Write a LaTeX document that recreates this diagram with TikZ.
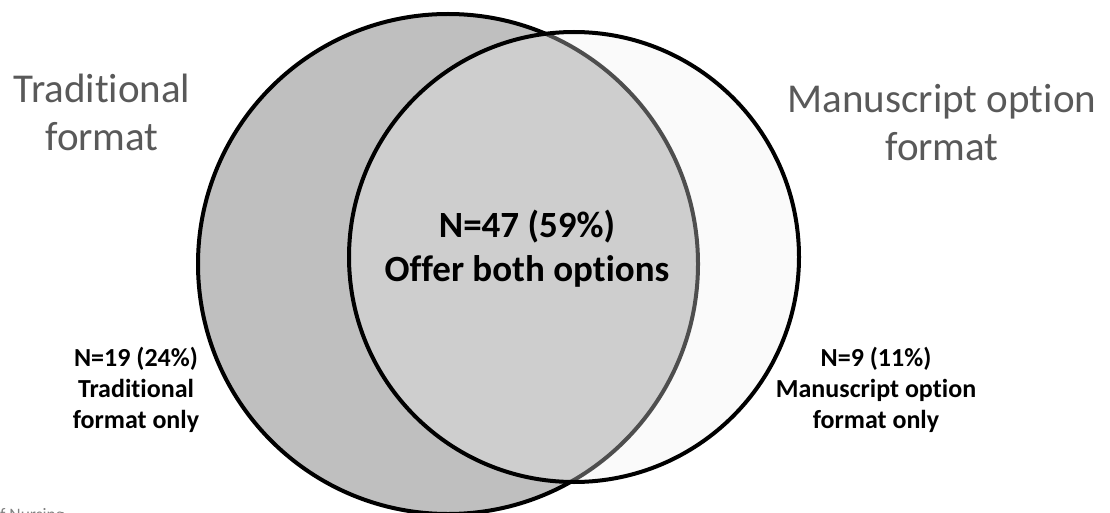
\documentclass[tikz,border=0pt]{standalone}
\usepackage{fontspec}
\setmainfont{Carlito}[Ligatures=NoCommon]
\usepackage{tikz}
\usetikzlibrary{shapes}
\usetikzlibrary{positioning}
\definecolor{tradfill}{RGB}{191,191,191}
\definecolor{manufill}{RGB}{239,239,239}
\definecolor{titlegray}{RGB}{89,89,89}
\tikzstyle{trad}=[
        draw,
        circle,
        line width=4pt,
        minimum size=500pt,
        fill=tradfill
]
\tikzstyle{manu}=[
        draw,
        circle,
        line width=4pt,
        minimum size=450pt,
        fill=manufill,
        fill opacity=0.33,
        draw opacity=1
]
\tikzstyle{titre}=[align=center,text=titlegray,font=\fontsize{41}{48}\selectfont]
\tikzstyle{compte}=[align=center,font=\fontsize{26}{31}\selectfont\bfseries]
\tikzstyle{milieu}=[align=center,font=\fontsize{37}{44}\selectfont\bfseries]

\begin{document}
\begin{tikzpicture}[x=1pt,y=-1pt]
\useasboundingbox (0,0) rectangle (1110,513);
\node[trad] (t) at (448,264) {};
\node[manu] (m) at (574,257) {};
%Textes
\node[titre] (tt) at (102,112) {Traditional\\format};
\node[titre] (mt) at (942,123) {Manuscript option\\format};
\node[milieu] (both) at (527,249) {N=47 (59\%)\\Offer both options};
\node[compte] (tonly) at (136,390) {N=19 (24\%)\\Traditional\\format only};
\node[compte] (monly) at (876,390) {N=9 (11\%)\\Manuscript option\\format only};
\node[anchor=base west,inner sep=0pt,text=gray,font=\fontsize{17.5}{20}\selectfont] (foot) at (0,520) {f Nursing};
\end{tikzpicture}
\end{document}
